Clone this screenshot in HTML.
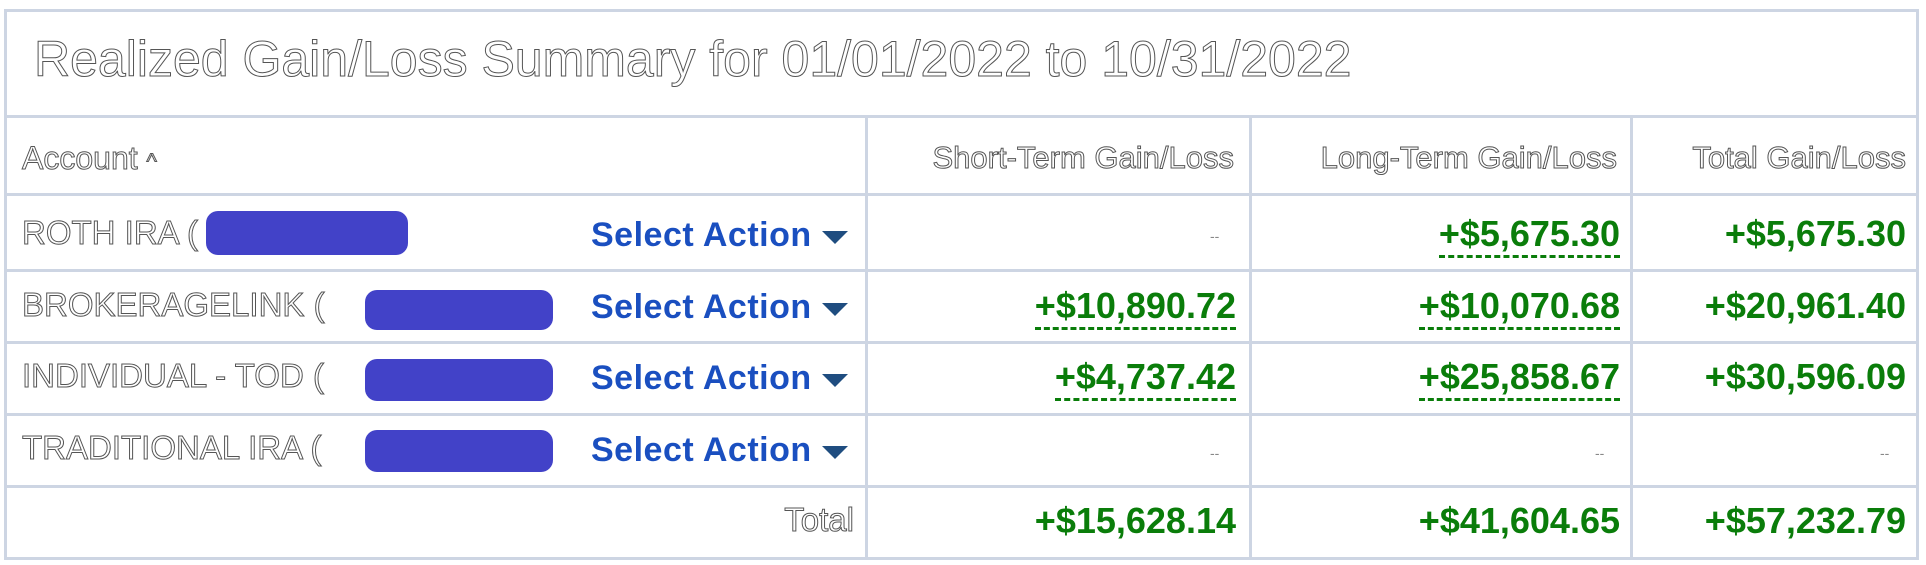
<!DOCTYPE html>
<html><head><meta charset="utf-8"><style>
body{margin:0;width:1926px;height:565px;background:#fff;position:relative;overflow:hidden;font-family:"Liberation Sans",Arial,sans-serif}
.a{position:absolute}
.h{background:#cdd5e3}
.ol{color:#fff;-webkit-text-stroke:1px #555;white-space:nowrap}
.v{position:absolute;color:#0a7d0a;font-weight:bold;font-size:36px;white-space:nowrap;text-align:right;line-height:38px}
.u{border-bottom:3px dashed #0a7d0a;padding-bottom:2px}
.sa{position:absolute;left:591px;color:#1a4fc0;font-weight:bold;font-size:34px;letter-spacing:0.5px;white-space:nowrap;line-height:38px}
.sa::after{content:"";display:inline-block;margin-left:10px;border-left:13px solid transparent;border-right:13px solid transparent;border-top:13px solid #1f4d80;vertical-align:middle}
.blob{position:absolute;background:#4242c8;border-radius:12px}
.dash{position:absolute;font-size:14px;color:#888}
</style></head><body>
<div class="a h" style="left:4px;top:9px;width:1915px;height:3px"></div>
<div class="a h" style="left:4px;top:9px;width:3px;height:550px"></div>
<div class="a h" style="left:1916px;top:9px;width:3px;height:550px"></div>
<div class="a ol" style="left:34px;top:30px;font-size:50px">Realized Gain/Loss Summary for 01/01/2022 to 10/31/2022</div>
<div class="a h" style="left:4px;top:115px;width:1915px;height:3px"></div>
<div class="a h" style="left:865px;top:115px;width:3px;height:444px"></div>
<div class="a h" style="left:1249px;top:115px;width:3px;height:444px"></div>
<div class="a h" style="left:1630px;top:115px;width:3px;height:444px"></div>
<div class="a h" style="left:4px;top:193px;width:1915px;height:3px"></div>
<div class="a h" style="left:4px;top:269px;width:1915px;height:3px"></div>
<div class="a h" style="left:4px;top:341px;width:1915px;height:3px"></div>
<div class="a h" style="left:4px;top:413px;width:1915px;height:3px"></div>
<div class="a h" style="left:4px;top:485px;width:1915px;height:3px"></div>
<div class="a h" style="left:4px;top:557px;width:1915px;height:3px"></div>

<div class="a ol" style="left:22px;top:140px;font-size:32px">Account <span style="font-size:22px">^</span></div>
<div class="a ol" style="right:692px;top:140px;font-size:31px">Short-Term Gain/Loss</div>
<div class="a ol" style="right:309px;top:140px;font-size:31px">Long-Term Gain/Loss</div>
<div class="a ol" style="right:20px;top:140px;font-size:31px">Total Gain/Loss</div>

<div class="a ol" style="left:22px;top:214px;font-size:33px">ROTH IRA (<span style="display:inline-block;width:200px"></span>)</div>
<div class="blob" style="left:206px;top:211px;width:202px;height:44px"></div>
<div class="sa" style="top:216px">Select Action</div>
<div class="dash" style="left:1210px;top:228px">--</div>
<div class="v u" style="right:306px;top:215px">+$5,675.30</div>
<div class="v" style="right:20px;top:215px">+$5,675.30</div>

<div class="a ol" style="left:22px;top:286px;font-size:33px">BROKERAGELINK (<span style="display:inline-block;width:188px"></span>)</div>
<div class="blob" style="left:365px;top:290px;width:188px;height:40px"></div>
<div class="sa" style="top:288px">Select Action</div>
<div class="v u" style="right:690px;top:287px">+$10,890.72</div>
<div class="v u" style="right:306px;top:287px">+$10,070.68</div>
<div class="v" style="right:20px;top:287px">+$20,961.40</div>

<div class="a ol" style="left:22px;top:357px;font-size:33px">INDIVIDUAL - TOD (<span style="display:inline-block;width:188px"></span>)</div>
<div class="blob" style="left:365px;top:359px;width:188px;height:42px"></div>
<div class="sa" style="top:359px">Select Action</div>
<div class="v u" style="right:690px;top:358px">+$4,737.42</div>
<div class="v u" style="right:306px;top:358px">+$25,858.67</div>
<div class="v" style="right:20px;top:358px">+$30,596.09</div>

<div class="a ol" style="left:22px;top:429px;font-size:33px">TRADITIONAL IRA (<span style="display:inline-block;width:188px"></span>)</div>
<div class="blob" style="left:365px;top:430px;width:188px;height:42px"></div>
<div class="sa" style="top:431px">Select Action</div>
<div class="dash" style="left:1210px;top:445px">--</div>
<div class="dash" style="left:1595px;top:445px">--</div>
<div class="dash" style="left:1880px;top:445px">--</div>

<div class="a ol" style="right:1072px;top:501px;font-size:33px">Total</div>
<div class="v" style="right:690px;top:502px">+$15,628.14</div>
<div class="v" style="right:306px;top:502px">+$41,604.65</div>
<div class="v" style="right:20px;top:502px">+$57,232.79</div>
</body></html>
